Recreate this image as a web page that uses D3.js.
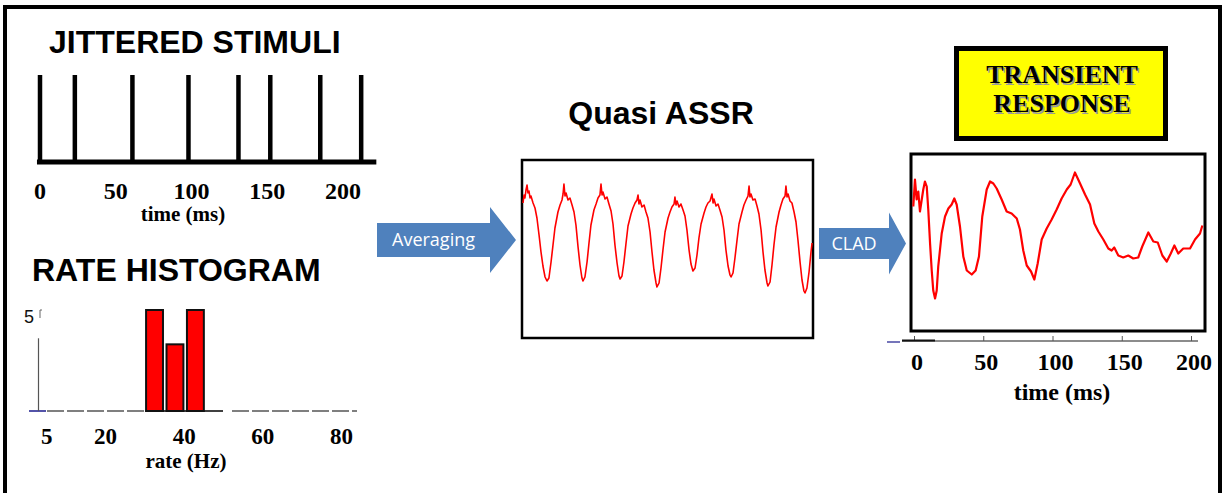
<!DOCTYPE html>
<html>
<head>
<meta charset="utf-8">
<script src="https://cdn.jsdelivr.net/npm/d3@7"></script>
<style>
  body { margin: 0; background: #fff; }
  svg { display: block; }
</style>
</head>
<body>
<svg id="fig" width="1225" height="493"></svg>
<script>
// ---- data ----
// stimulus onset times (ms) of the jittered click train
const stimTimes = [0, 23, 61, 98, 131, 152, 185, 212];
const stimTicks = [0, 50, 100, 150, 200];

// rate histogram: bin edges (Hz) and counts
const rateBinStart = [30.3, 35.5, 40.7];
const rateBinEnd = [34.6, 39.8, 45.0];
const rateCounts = [5, 3.3, 5];
const rateTicks = [5, 20, 40, 60, 80];

// averaged quasi-steady-state response (time in ms, amplitude in uV)
const assrTime = [0,0.7,1.3,2,2.7,3.3,4,4.7,5.3,6.7,8,9.3,10.7,12,13.3,14.7,16,17.3,18.7,20,21.3,23.3,24.7,26,26.7,27.3,
  28,28.7,30,31.3,32.7,34,35.3,36.7,38,39.3,40,41.3,42.7,44,45.3,47.3,48.7,50,51.3,52,
  52.7,53.3,54.7,56,57.3,58.7,60,61.3,62.7,64,64.7,66,67.3,68.7,70,72,73.3,74.7,76,76.7,
  77.3,78,79.3,80.7,82,83.3,84.7,86,87.3,88.7,89.3,90.7,92,93.3,94.7,96.7,98,99.3,100.7,101.3,
  102,102.7,104,105.3,106.7,108,109.3,110.7,112,113.3,114.7,116,117.3,118.7,120.7,122,123.3,124.7,126,
  126.7,127.3,128.7,130,131.3,132.7,134,135.3,136.7,138,138.7,140,141.3,142.7,144,146,147.3,148.7,150,150.7,
  151.3,152,153.3,154.7,156,157.3,158.7,160,161.3,162.7,163.3,164.7,166,167.3,168.7,170.7,172,173.3,174.7,175.3,
  176,176.7,178,179.3,180.7,182,183.3,184.7,186,187.3,188,189.3,190.7,192,192.7];
const assrAmp = [4.6,5.4,5.1,5.9,6.4,5.6,5.8,5.1,5.3,4.6,4.1,3.1,1.4,-0.3,-1.7,-2.8,-3.2,-2.9,-1.3,0.4,2.1,3.7,4.4,4.9,5.5,6.5,
  5.3,5.6,4.9,5.1,4.4,3.7,2.4,0.2,-1.6,-2.9,-3.2,-2.8,-1.3,0.6,2.4,3.9,4.5,5.1,5.4,6.5,
  5.4,5.7,5.0,5.2,4.5,3.8,2.5,0.4,-1.4,-2.7,-3.0,-2.7,-1.3,0.6,2.3,3.5,4.1,4.6,4.9,5.4,
  4.5,4.9,4.2,4.4,3.7,3.1,1.7,-0.3,-2.1,-3.4,-3.8,-3.4,-1.9,-0.1,1.7,3.1,3.7,4.2,4.5,5.2,
  4.4,4.8,4.2,4.5,3.9,3.3,1.9,-0.1,-1.5,-2.2,-1.9,-0.6,1.1,2.5,3.6,4.2,4.6,4.8,5.5,
  4.6,5.0,4.3,4.5,3.9,3.2,1.9,-0.1,-1.7,-2.6,-2.8,-2.4,-0.9,0.9,2.5,3.7,4.4,4.9,5.3,6.3,
  5.2,5.5,4.9,5.0,4.3,3.5,1.9,-0.3,-2.1,-3.4,-3.7,-3.3,-1.6,0.4,2.2,3.7,4.4,5.0,5.3,6.3,
  5.2,5.5,4.8,4.6,3.7,2.7,0.9,-1.3,-3.1,-4.2,-4.4,-3.9,-2.3,-0.3,0.6];

// deconvolved transient response (CLAD output)
const transTime = [-0.5,0.7,1.9,3.1,4.3,5.6,6.7,7.9,9.2,10.3,11.6,12.8,13.9,15.2,16.4,17.5,20.0,22.4,24.8,27.2,
  29.1,30.8,33.2,35.6,38.1,41.7,44.5,46.9,49.3,52.5,54.9,57.3,59.7,63.3,66.9,70.5,74.2,76.5,78.9,81.4,
  84.5,86.9,89.3,92.2,95.8,99.4,103.0,106.6,110.3,113.1,116.2,119.9,123.5,127.1,130.2,133.1,136.7,140.3,142.7,144.6,
  147.5,151.1,154.7,158.3,161.9,164.8,169.2,172.8,176.0,179.3,182.5,185.4,188.0,190.8,194.4,199.3,202.9,206.5,208.2];
const transAmp = [3.6,6.3,4.3,5.1,3.1,4.3,5.3,6.1,5.6,3.3,-0.1,-2.8,-4.8,-5.6,-4.8,-2.4,0.9,2.6,3.4,3.8,
  4.4,3.8,1.6,-1.4,-2.8,-3.2,-2.8,-1.4,2.6,5.3,6.1,5.9,5.4,4.3,3.1,2.9,2.4,1.3,-0.8,-2.3,
  -2.9,-3.7,-2.1,0.3,1.4,2.3,3.3,4.4,5.3,5.8,7.0,5.9,4.8,3.8,1.9,1.1,0.3,-0.6,-0.8,-0.5,
  -1.3,-1.5,-1.3,-1.6,-1.5,-0.4,1.0,0.1,0.0,-1.3,-1.9,-1.1,-0.3,-1.1,-0.6,-0.6,0.3,0.9,1.7];
const transTicks = [0, 50, 100, 150, 200];

// ---- drawing ----
const svg = d3.select("#fig");
const SANS = "'Liberation Sans', Arial, sans-serif";
const SERIF = "'Liberation Serif', 'Times New Roman', serif";
const OFFICE = "'Open Sans', 'Noto Sans', sans-serif";
const BLUE = "#4f81bd";

svg.append("rect").attr("width", 1225).attr("height", 493).attr("fill", "#fff");

// outer frame
svg.append("rect")
  .attr("x", 5).attr("y", 7).attr("width", 1215).attr("height", 520)
  .attr("fill", "none").attr("stroke", "#000").attr("stroke-width", 4);

function title(txt, x, y, anchor) {
  svg.append("text").attr("x", x).attr("y", y)
    .attr("text-anchor", anchor || "middle")
    .attr("font-family", SANS).attr("font-weight", "bold").attr("font-size", 32)
    .text(txt);
}

// ---------- jittered stimuli ----------
title("JITTERED STIMULI", 49, 53, "start");
const xStim = d3.scaleLinear().domain([0, 200]).range([40, 343]);
const stimBase = 162, stimTop = 75;
const stim = svg.append("g");
stim.append("line")
  .attr("x1", xStim(-2)).attr("x2", xStim(222))
  .attr("y1", stimBase).attr("y2", stimBase)
  .attr("stroke", "#000").attr("stroke-width", 5);
stim.selectAll("line.spike").data(stimTimes).join("line")
  .attr("class", "spike")
  .attr("x1", d => xStim(d)).attr("x2", d => xStim(d))
  .attr("y1", stimTop).attr("y2", stimBase)
  .attr("stroke", "#000").attr("stroke-width", 4.5);
stim.selectAll("text.tick").data(stimTicks).join("text")
  .attr("class", "tick")
  .attr("x", d => xStim(d)).attr("y", 199)
  .attr("text-anchor", "middle")
  .attr("font-family", SERIF).attr("font-weight", "bold").attr("font-size", 24)
  .text(d => d);
stim.append("text").attr("x", 183).attr("y", 221).attr("text-anchor", "middle")
  .attr("font-family", SERIF).attr("font-weight", "bold").attr("font-size", 21)
  .text("time (ms)");

// ---------- rate histogram ----------
title("RATE HISTOGRAM", 32, 281, "start");
const xRate = d3.scaleLinear().domain([0, 80]).range([27, 341.4]);
const yRate = d3.scaleLinear().domain([0, 5]).range([411, 310]);
const hist = svg.append("g");
// axis pieces
hist.append("line").attr("x1", 29).attr("x2", 46).attr("y1", 411).attr("y2", 411)
  .attr("stroke", "#1a1a8c").attr("stroke-width", 1.5);
hist.append("line").attr("x1", 47).attr("x2", 145).attr("y1", 411).attr("y2", 411)
  .attr("stroke", "#555").attr("stroke-width", 1.5).attr("stroke-dasharray", "17,3");
hist.append("line").attr("x1", 145).attr("x2", 223).attr("y1", 411).attr("y2", 411)
  .attr("stroke", "#000").attr("stroke-width", 1.5);
hist.append("line").attr("x1", 232).attr("x2", 357).attr("y1", 411).attr("y2", 411)
  .attr("stroke", "#555").attr("stroke-width", 1.5).attr("stroke-dasharray", "17,3");
hist.append("line").attr("x1", 38.5).attr("x2", 38.5).attr("y1", yRate(0)).attr("y2", yRate(3.6))
  .attr("stroke", "#555").attr("stroke-width", 1.2);
hist.append("path")
  .attr("d", `M42,${yRate(5)} H40 V${yRate(5) + 8}`)
  .attr("fill", "none").attr("stroke", "#666").attr("stroke-width", 1);
hist.append("text").attr("x", 29).attr("y", yRate(5) + 13).attr("text-anchor", "middle")
  .attr("font-family", SANS).attr("font-size", 18).attr("fill", "#111").text("5");
// bars
hist.selectAll("rect.bar").data(rateCounts).join("rect")
  .attr("class", "bar")
  .attr("x", (d, i) => xRate(rateBinStart[i]))
  .attr("width", (d, i) => xRate(rateBinEnd[i]) - xRate(rateBinStart[i]))
  .attr("y", d => yRate(d))
  .attr("height", d => yRate(0) - yRate(d))
  .attr("fill", "#ff0000").attr("stroke", "#111").attr("stroke-width", 2);
hist.selectAll("text.tick").data(rateTicks).join("text")
  .attr("class", "tick")
  .attr("x", d => xRate(d)).attr("y", 444)
  .attr("text-anchor", "middle")
  .attr("font-family", SERIF).attr("font-weight", "bold").attr("font-size", 23)
  .text(d => d);
hist.append("text").attr("x", 186).attr("y", 468).attr("text-anchor", "middle")
  .attr("font-family", SERIF).attr("font-weight", "bold").attr("font-size", 21)
  .text("rate (Hz)");

// ---------- block arrows ----------
function blockArrow(x0, x1, xt, yc, bodyH, headH, label, fs) {
  const g = svg.append("g");
  g.append("path")
    .attr("d", `M${x0},${yc - bodyH / 2} H${x1} V${yc - headH / 2} L${xt},${yc} L${x1},${yc + headH / 2} V${yc + bodyH / 2} H${x0} Z`)
    .attr("fill", BLUE);
  g.append("text").attr("x", (x0 + x1) / 2).attr("y", yc + 6)
    .attr("text-anchor", "middle").attr("fill", "#fff")
    .attr("font-family", OFFICE).attr("font-size", fs).text(label);
}
blockArrow(377, 490, 516, 240, 34, 66, "Averaging", 18);
blockArrow(819, 889, 906, 243.5, 31, 62, "CLAD", 18);

// ---------- quasi ASSR ----------
title("Quasi ASSR", 661, 124);
const assrBox = { x: 522, y: 160, w: 291, h: 178 };
svg.append("rect").attr("x", assrBox.x).attr("y", assrBox.y)
  .attr("width", assrBox.w).attr("height", assrBox.h)
  .attr("fill", "#fff").attr("stroke", "#000").attr("stroke-width", 2.5);
const xAssr = d3.scaleLinear().domain([0, 193]).range([523, 812.5]);
const yAssr = d3.scaleLinear().domain([-8.9, 8.9]).range([338, 160]);
svg.append("path")
  .datum(assrTime.map((t, i) => [t, assrAmp[i]]))
  .attr("d", d3.line().x(d => xAssr(d[0])).y(d => yAssr(d[1])))
  .attr("fill", "none").attr("stroke", "#ff0000").attr("stroke-width", 1.6)
  .attr("stroke-linejoin", "round");

// ---------- transient response ----------
const tb = svg.append("g");
tb.append("rect").attr("x", 956.5).attr("y", 48.5).attr("width", 209).attr("height", 90)
  .attr("fill", "#ffff00").attr("stroke", "#000").attr("stroke-width", 5);
[["TRANSIENT", 83], ["RESPONSE", 112]].forEach(([t, y]) => {
  tb.append("text").attr("x", 1063.5).attr("y", y + 1.5).attr("text-anchor", "middle")
    .attr("font-family", SERIF).attr("font-weight", "bold").attr("font-size", 26)
    .attr("fill", "#9a9a9a").text(t);
  tb.append("text").attr("x", 1062).attr("y", y).attr("text-anchor", "middle")
    .attr("font-family", SERIF).attr("font-weight", "bold").attr("font-size", 26)
    .attr("fill", "#000").text(t);
});

svg.append("rect").attr("x", 911).attr("y", 154).attr("width", 294).attr("height", 177)
  .attr("fill", "#fff").attr("stroke", "#000").attr("stroke-width", 3);
const xTrans = d3.scaleLinear().domain([0, 200]).range([914, 1191]);
const yTrans = d3.scaleLinear().domain([-8.85, 8.85]).range([331, 154]);
svg.append("path")
  .datum(transTime.map((t, i) => [t, transAmp[i]]))
  .attr("d", d3.line().x(d => xTrans(d[0])).y(d => yTrans(d[1])))
  .attr("fill", "none").attr("stroke", "#ff0000").attr("stroke-width", 2.2)
  .attr("stroke-linejoin", "round");

// time axis under the transient
const axisY = 341;
svg.append("line").attr("x1", 887).attr("x2", 900).attr("y1", axisY + 1).attr("y2", axisY + 1)
  .attr("stroke", "#1a1a8c").attr("stroke-width", 1.2);
const ax = svg.append("g").attr("transform", `translate(0,${axisY})`)
  .call(d3.axisBottom(xTrans).tickValues(transTicks).tickSize(-5).tickSizeOuter(0).tickPadding(0));
ax.select(".domain").remove();
ax.selectAll(".tick line").attr("stroke", "#555");
ax.selectAll(".tick text").remove();
ax.insert("line", ":first-child").attr("x1", 902).attr("x2", 1198).attr("y1", 0).attr("y2", 0)
  .attr("stroke", "#666").attr("stroke-width", 1.5);
ax.append("line").attr("x1", 902).attr("x2", 935).attr("y1", -0.5).attr("y2", -0.5)
  .attr("stroke", "#111").attr("stroke-width", 2);
svg.selectAll("text.ttick").data(transTicks).join("text")
  .attr("class", "ttick")
  .attr("x", d => xTrans(d) + 3).attr("y", 370)
  .attr("text-anchor", "middle")
  .attr("font-family", SERIF).attr("font-weight", "bold").attr("font-size", 24)
  .text(d => d);
svg.append("text").attr("x", 1062).attr("y", 400).attr("text-anchor", "middle")
  .attr("font-family", SERIF).attr("font-weight", "bold").attr("font-size", 24)
  .text("time (ms)");
</script>
</body>
</html>
